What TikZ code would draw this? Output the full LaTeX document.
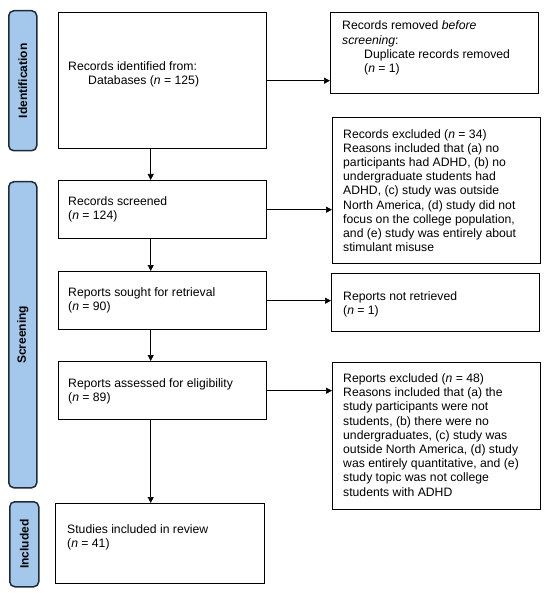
\documentclass[tikz,border=0pt]{standalone}
\usepackage{fontspec}
\setmainfont{Liberation Sans}
\usetikzlibrary{arrows.meta}
\definecolor{barfill}{HTML}{A4C8EC}
\definecolor{barline}{HTML}{1F2A3A}
\tikzset{
  box/.style={draw=black, line width=1.4pt, rectangle, inner sep=0pt, anchor=north west},
  phase/.style={draw=barline, fill=barfill, line width=1.5pt, rounded corners=5pt, inner sep=0pt, anchor=north west},
  phaselbl/.style={rotate=90, font=\fontsize{12}{14}\selectfont\bfseries, inner sep=0pt},
  lbl/.style={anchor=west, align=left, inner sep=0pt, font=\fontsize{12.2}{14.2}\selectfont},
  arr/.style={-{Triangle[length=6pt,width=6pt]}, line width=0.7pt},
}
\begin{document}
\begin{tikzpicture}[x=1pt,y=-1pt]
\useasboundingbox (0,0) rectangle (550,593);
% phase bars
\node[phase, minimum width=28pt, minimum height=140pt] (pid) at (8,10) {};
\node[phaselbl] (pidt) at (pid.center) {Identification};
\node[phase, minimum width=28pt, minimum height=306pt] (psc) at (8,181) {};
\node[phaselbl] (psct) at (psc.center) {Screening};
\node[phase, minimum width=29pt, minimum height=85pt] (pin) at (9,501) {};
\node[phaselbl] (pint) at (pin.center) {Included};
% main boxes
\node[box, minimum width=208pt, minimum height=136pt] (b1) at (58,12) {};
\node[box, minimum width=208pt, minimum height=58pt] (b2) at (58,180) {};
\node[box, minimum width=208pt, minimum height=58pt] (b3) at (58,271) {};
\node[box, minimum width=208pt, minimum height=58pt] (b4) at (58,361) {};
\node[box, minimum width=209pt, minimum height=80pt] (b5) at (55,503) {};
% side boxes
\node[box, minimum width=208pt, minimum height=81pt] (r1) at (330,12) {};
\node[box, minimum width=208pt, minimum height=146pt] (r2) at (332,117) {};
\node[box, minimum width=208pt, minimum height=58pt] (r3) at (331,273) {};
\node[box, minimum width=208pt, minimum height=147pt] (r4) at (332,362) {};
% texts
\node[lbl] (t1) at (68,74.5) {Records identified from:\\\hspace*{20pt}Databases (\textit{n} = 125)};
\node[lbl] (t2) at (68,209) {Records screened\\(\textit{n} = 124)};
\node[lbl] (t3) at (68,300.5) {Reports sought for retrieval\\(\textit{n} = 90)};
\node[lbl] (t4) at (68,391) {Reports assessed for eligibility\\(\textit{n} = 89)};
\node[lbl] (t5) at (67,537.5) {Studies included in review\\(\textit{n} = 41)};
\node[lbl] (s1) at (342,48) {Records removed \textit{before}\\\textit{screening}:\\\hspace*{22pt}Duplicate records removed\\\hspace*{22pt}(\textit{n} = 1)};
\node[lbl] (s2) at (343,190.5) {Records excluded (\textit{n} = 34)\\Reasons included that (a) no\\participants had ADHD, (b) no\\undergraduate students had\\ADHD, (c) study was outside\\North America, (d) study did not\\focus on the college population,\\and (e) study was entirely about\\stimulant misuse};
\node[lbl] (s3) at (343,304) {Reports not retrieved\\(\textit{n} = 1)};
\node[lbl] (s4) at (343,435) {Reports excluded (\textit{n} = 48)\\Reasons included that (a) the\\study participants were not\\students, (b) there were no\\undergraduates, (c) study was\\outside North America, (d) study\\was entirely quantitative, and (e)\\study topic was not college\\students with ADHD};
% vertical arrows
\draw[arr] ([xshift=-12pt]b1.south) -- ([xshift=-12pt]b2.north);
\draw[arr] ([xshift=-12pt]b2.south) -- ([xshift=-12pt]b3.north);
\draw[arr] ([xshift=-12pt]b3.south) -- ([xshift=-12pt]b4.north);
\draw[arr] ([xshift=-12pt]b4.south) -- ([xshift=-12pt]b4.south |- b5.north);
% horizontal arrows
\draw[arr] (b1.east) -- (b1.east -| r1.west);
\draw[arr] (b2.east) -- (b2.east -| r2.west);
\draw[arr] (b3.east) -- (b3.east -| r3.west);
\draw[arr] (b4.east) -- (b4.east -| r4.west);
\end{tikzpicture}
\end{document}
